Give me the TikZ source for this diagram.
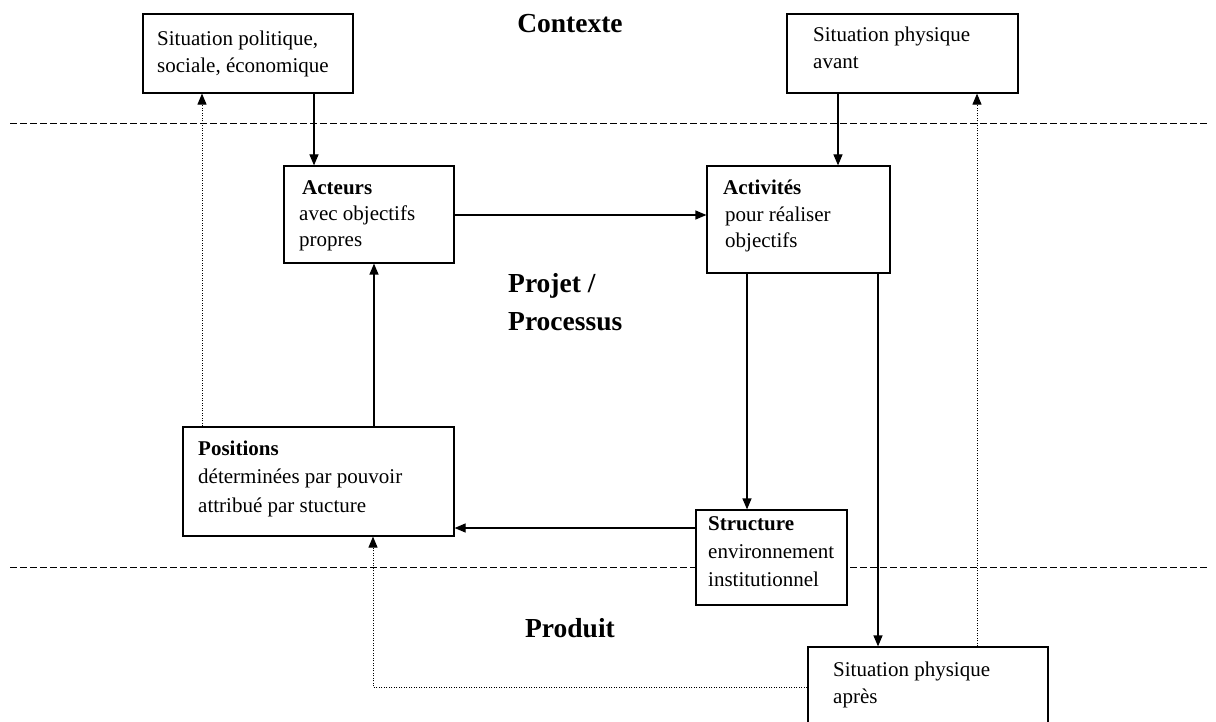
\documentclass[tikz,border=0pt]{standalone}
\usepackage{fontspec}
\setmainfont{Liberation Serif}
\usetikzlibrary{arrows.meta}
\begin{document}
\begin{tikzpicture}[x=1pt,y=-1pt,
  box/.style={draw=black, line width=1.2pt, fill=white, inner sep=0pt},
  txt/.style={anchor=base west, inner sep=0pt, align=left, font=\fontsize{21}{27}\selectfont},
  head/.style={inner sep=0pt, align=left, font=\fontsize{27.5}{38}\selectfont\bfseries},
  arr/.style={-{Triangle[length=11pt,width=9pt]}, line width=1.2pt},
  dotarr/.style={-{Triangle[length=11pt,width=9pt]}, line width=1pt, dash pattern=on 1pt off 1.5pt},
  sep/.style={line width=1pt, dash pattern=on 7pt off 3pt}]
\useasboundingbox (0,0) rectangle (1216,722);
\clip (0,0) rectangle (1216,722);
\fill[white] (0,0) rectangle (1216,722);

% separators
\coordinate (s1a) at (10,124); \coordinate (s1b) at (1208,124);
\coordinate (s2a) at (10,567); \coordinate (s2b) at (1208,567);
\draw[sep] (s1a) -- (s1b);
\draw[sep] (s2a) -- (s2b);

% boxes
\node[box, minimum width=210pt, minimum height=79pt] (ctx1) at (248,53.5) {};
\node[box, minimum width=231pt, minimum height=79pt] (ctx2) at (902.5,53.5) {};
\node[box, minimum width=170pt, minimum height=97pt] (act) at (369,214.5) {};
\node[box, minimum width=183pt, minimum height=107pt] (acv) at (798.5,219.5) {};
\node[box, minimum width=271pt, minimum height=109pt] (pos) at (318.5,481.5) {};
\node[box, minimum width=151pt, minimum height=95pt] (str) at (771.5,557.5) {};
\node[box, minimum width=240pt, minimum height=100pt] (apr) at (928,697) {};

% texts (anchor at baseline of last line)
\node[txt] (tctx1) at (157,73) {Situation politique,\\sociale, économique};
\node[txt] (tctx2) at (813,69) {Situation physique\\avant};
\node[txt, font=\fontsize{21}{26}\selectfont] (tact) at (299,247) {\hspace{3pt}\textbf{Acteurs}\\avec objectifs\\propres};
\node[txt] (tacv) at (723,248) {\textbf{Activités}\\\hspace{2pt}pour réaliser\\\hspace{2pt}objectifs};
\node[txt, font=\fontsize{21}{28.5}\selectfont] (tpos) at (198,512) {\textbf{Positions}\\déterminées par pouvoir\\attribué par stucture};
\node[txt, font=\fontsize{21}{28}\selectfont] (tstr) at (708,586) {\textbf{Structure}\\environnement\\institutionnel};
\node[txt] (tapr) at (833,703) {Situation physique\\après};

% headings
\node[head, anchor=base] (hctx) at (570,33) {Contexte};
\node[head, anchor=base west] (hproj) at (508,330) {Projet /\\Processus};
\node[head, anchor=base] (hprod) at (570,637) {Produit};

% connector positions
\coordinate (xa) at (314,0);
\coordinate (xb) at (202,0);
\coordinate (xc) at (838,0);
\coordinate (xd) at (977,0);
\coordinate (xe) at (747,0);
\coordinate (xf) at (878,0);
\coordinate (xg) at (374,0);
\coordinate (ya) at (0,215);
\coordinate (yb) at (0,528);
\coordinate (dc) at (373,687);

\draw[arr] (ctx1.south -| xa) -- (act.north -| xa);
\draw[dotarr] (pos.north -| xb) -- (ctx1.south -| xb);
\draw[arr] (ctx2.south -| xc) -- (acv.north -| xc);
\draw[dotarr] (apr.north -| xd) -- (ctx2.south -| xd);
\draw[arr] (act.east |- ya) -- (acv.west |- ya);
\draw[arr] (acv.south -| xe) -- (str.north -| xe);
\draw[arr] (acv.south -| xf) -- (apr.north -| xf);
\draw[arr] (str.west |- yb) -- (pos.east |- yb);
\draw[arr] (pos.north -| xg) -- (act.south -| xg);
\draw[dotarr] (apr.west |- dc) -- (dc) -- (pos.south -| dc);
\end{tikzpicture}
\end{document}
